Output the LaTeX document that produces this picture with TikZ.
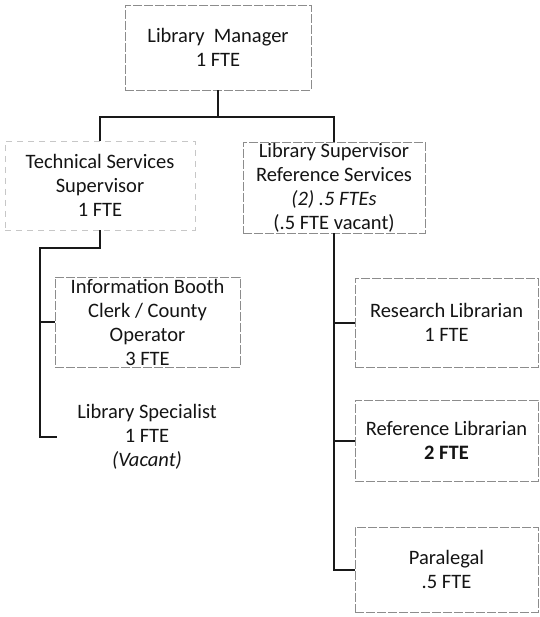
\documentclass[tikz,border=0pt]{standalone}
\usepackage{fontspec}
\setmainfont{Carlito}
\begin{document}
\begin{tikzpicture}[x=1pt,y=-1pt,
  orgtext/.style={align=center,text=black!92,font=\fontsize{20.5}{24}\selectfont,inner sep=0pt},
  orgbox/.style={orgtext,draw=black!45,line width=0.7pt,dash pattern=on 9pt off 2pt},
  faintbox/.style={orgtext,draw=black!22,line width=0.6pt,dash pattern=on 6pt off 5pt},
  link/.style={draw=black!90,line width=2pt}]
\useasboundingbox (0,0) rectangle (539,617);
\node[orgbox,minimum width=186pt,minimum height=85pt] (lm) at (218,47.5) {Library\ \ Manager\\1 FTE};
\node[faintbox,minimum width=190pt,minimum height=89pt] (ts) at (100,185.5) {Technical Services\\Supervisor\\1 FTE};
\node[orgbox,minimum width=182pt,minimum height=91pt] (ls) at (334,187.5) {Library Supervisor\\Reference Services\\\textit{(2) .5 FTEs}\\(.5 FTE vacant)};
\node[orgbox,minimum width=185pt,minimum height=90pt] (ib) at (147.5,322) {Information Booth\\Clerk / County\\Operator\\3 FTE};
\node[orgtext,minimum width=180pt,minimum height=85pt] (spec) at (147,437) {Library Specialist\\1 FTE\\\textit{(Vacant)}};
\node[orgbox,minimum width=183pt,minimum height=89pt] (rl) at (446.5,322.5) {Research Librarian\\1 FTE};
\node[orgbox,minimum width=183pt,minimum height=81pt] (refl) at (446.5,440.5) {Reference Librarian\\\textbf{2 FTE}};
\node[orgbox,minimum width=183pt,minimum height=85pt] (para) at (446.5,569.5) {Paralegal\\.5 FTE};
\coordinate (j1) at (218,117);
\coordinate (t1) at (40,248);
\draw[link] (lm.south) -- (j1);
\draw[link] (ts.north) |- (j1) -| (ls.north);
\draw[link] (ts.south) |- (t1) |- (spec.west);
\draw[link] (t1) |- (ib.west);
\draw[link] (ls.south) |- (para.west);
\draw[link] (ls.south) |- (rl.west);
\draw[link] (ls.south) |- (refl.west);
\end{tikzpicture}
\end{document}
